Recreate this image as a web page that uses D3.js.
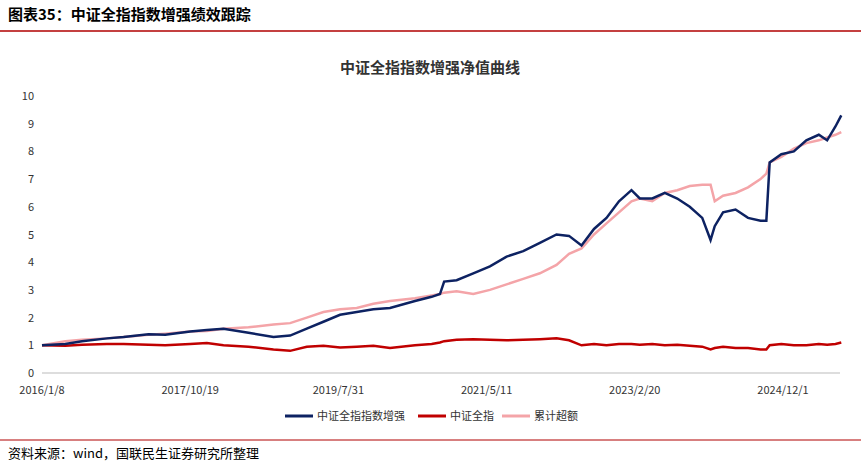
<!DOCTYPE html><html><head><meta charset="utf-8"><script src="https://cdn.jsdelivr.net/npm/d3@7"></script>
<style>body{margin:0;background:#fff;font-family:"Noto Sans CJK SC","Noto Sans",sans-serif}</style></head><body><svg id="c" width="861" height="467"></svg>
<script>
const years=[2016.02,2016.3,2016.5,2016.8,2017.0,2017.3,2017.5,2017.8,2018.0,2018.2,2018.5,2018.8,2019.0,2019.2,2019.4,2019.6,2019.8,2020.0,2020.2,2020.5,2020.7,2020.8,2020.85,2021.0,2021.2,2021.4,2021.6,2021.8,2022.0,2022.2,2022.35,2022.5,2022.65,2022.8,2022.95,2023.1,2023.2,2023.35,2023.5,2023.65,2023.8,2023.95,2024.05,2024.1,2024.2,2024.35,2024.5,2024.65,2024.72,2024.76,2024.9,2025.05,2025.2,2025.35,2025.45,2025.55,2025.62];
const enhanced=[1.0,1.05,1.15,1.25,1.3,1.4,1.38,1.5,1.55,1.6,1.45,1.3,1.35,1.6,1.85,2.1,2.2,2.3,2.35,2.6,2.75,2.85,3.3,3.35,3.6,3.85,4.2,4.4,4.7,5.0,4.95,4.6,5.2,5.6,6.2,6.6,6.3,6.3,6.5,6.3,6.0,5.6,4.8,5.3,5.8,5.9,5.6,5.5,5.5,7.6,7.9,8.0,8.4,8.6,8.4,8.9,9.3];
const index=[1.0,0.98,1.02,1.05,1.05,1.02,1.0,1.05,1.08,1.0,0.95,0.85,0.8,0.95,0.98,0.92,0.95,0.98,0.9,1.0,1.05,1.1,1.15,1.2,1.22,1.2,1.18,1.2,1.22,1.25,1.18,1.0,1.05,1.0,1.05,1.05,1.02,1.05,1.0,1.02,0.98,0.95,0.85,0.9,0.95,0.9,0.9,0.85,0.85,1.0,1.05,1.0,1.0,1.05,1.02,1.05,1.1];
const excess=[1.0,1.15,1.2,1.25,1.3,1.38,1.42,1.5,1.52,1.6,1.65,1.75,1.8,2.0,2.2,2.3,2.35,2.5,2.6,2.7,2.8,2.85,2.9,2.95,2.85,3.0,3.2,3.4,3.6,3.9,4.3,4.5,5.0,5.4,5.8,6.2,6.3,6.2,6.5,6.6,6.75,6.8,6.8,6.2,6.4,6.5,6.7,7.0,7.2,7.6,7.8,8.1,8.3,8.4,8.5,8.6,8.7];
const yTicks=[0,1,2,3,4,5,6,7,8,9,10];
const xTickLabels=["2016/1/8","2017/10/19","2019/7/31","2021/5/11","2023/2/20","2024/12/1"];
const xTickVals=[2016.02,2017.8,2019.58,2021.36,2023.14,2024.92];
const names=["中证全指指数增强","中证全指","累计超额"];
const colors=["#0d2262","#c00000","#f4a4a8"];
const svg=d3.select("#c");
svg.append("text").attr("x",8).attr("y",20).attr("font-size",15).attr("font-weight","bold").attr("fill","#000").text("图表35：中证全指指数增强绩效跟踪");
svg.append("line").attr("x1",0).attr("x2",861).attr("y1",31).attr("y2",31).attr("stroke","#b00000").attr("stroke-width",1.5);
svg.append("text").attr("x",430).attr("y",73).attr("text-anchor","middle").attr("font-size",15).attr("font-weight","bold").attr("fill","#333").text("中证全指指数增强净值曲线");
const x=d3.scaleLinear().domain([2016.02,2024.92]).range([42,783]);
const y=d3.scaleLinear().domain([0,10]).range([373,96]);
yTicks.forEach(t=>svg.append("text").attr("x",34).attr("y",y(t)+4).attr("text-anchor","end").attr("font-size",11).attr("fill","#333").text(t));
svg.append("line").attr("x1",42).attr("x2",840).attr("y1",y(0)).attr("y2",y(0)).attr("stroke","#bbb");
xTickVals.forEach((v,i)=>svg.append("text").attr("x",x(v)).attr("y",394).attr("text-anchor","middle").attr("font-size",11).attr("fill","#333").text(xTickLabels[i]));
const series=[enhanced,index,excess];
[2,1,0].forEach(k=>{
 const line=d3.line().x((d,i)=>x(years[i])).y(d=>y(d)).curve(d3.curveLinear);
 svg.append("path").datum(series[k]).attr("d",line).attr("fill","none").attr("stroke",colors[k]).attr("stroke-width",2.5);
});
const lx=[285,418,502];
names.forEach((n,i)=>{
 svg.append("line").attr("x1",lx[i]).attr("x2",lx[i]+28).attr("y1",416).attr("y2",416).attr("stroke",colors[i]).attr("stroke-width",3);
 svg.append("text").attr("x",lx[i]+32).attr("y",420).attr("font-size",11).attr("fill","#333").text(n);
});
svg.append("line").attr("x1",0).attr("x2",861).attr("y1",440).attr("y2",440).attr("stroke","#b00000").attr("stroke-width",1);
svg.append("text").attr("x",8).attr("y",458).attr("font-size",13).attr("fill","#000").text("资料来源：wind，国联民生证券研究所整理");
</script></body></html>
